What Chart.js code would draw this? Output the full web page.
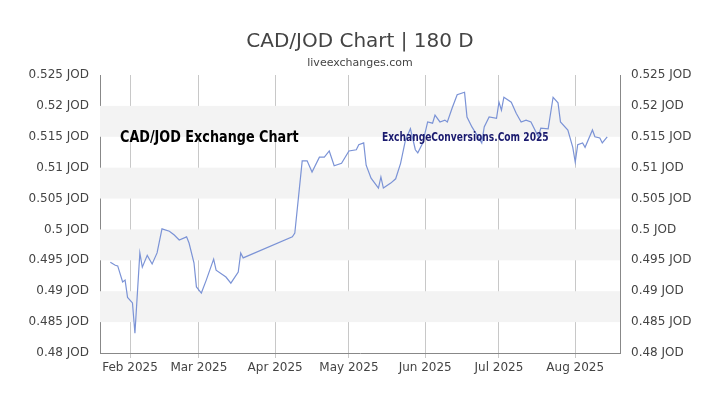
<!DOCTYPE html>
<html>
<head>
<script src="https://cdn.jsdelivr.net/npm/chart.js@4"></script>
<style>body{margin:0;background:#fff}#c{width:720px;height:405px}</style>
</head>
<body>
<div id="c"><canvas id="chart" width="720" height="405"></canvas></div>
<script>
// day of year (Jan 1 = 0) and CAD/JOD rate
var days = [23,25,26,28,29,30,32,33,35,36,38,40,42,44,47,49,51,54,55,57,58,60,62,65,66,70,72,75,76,77,
  97,98,101,103,105,108,110,112,114,117,120,123,124,126,127,129,132,133,134,137,139,141,143,145,147,148,150,
  152,154,155,157,159,160,162,164,167,168,170,172,174,175,177,180,181,182,183,186,188,190,192,194,197,198,
  201,203,205,206,209,211,212,213,215,216,219,220,222,223,225];
var rates = [0.4947,0.4942,0.4941,0.4915,0.4918,0.4890,0.4881,0.4832,0.4962,0.4939,0.4958,0.4944,0.4962,0.5001,0.4997,0.4991,0.4983,0.4988,0.4978,0.4946,0.4907,0.4897,0.4918,0.4952,0.4934,0.4923,0.4913,0.4931,0.4962,0.4954,
  0.4988,0.4994,0.5111,0.5111,0.5093,0.5117,0.5117,0.5127,0.5103,0.5107,0.5127,0.5129,0.5137,0.5140,0.5104,0.5083,0.5067,0.5085,0.5067,0.5075,0.5082,0.5107,0.5145,0.5163,0.5129,0.5124,0.5140,
  0.5174,0.5172,0.5185,0.5174,0.5177,0.5174,0.5197,0.5218,0.5222,0.5182,0.5166,0.5153,0.5140,0.5166,0.5182,0.5180,0.5206,0.5193,0.5214,0.5206,0.5188,0.5174,0.5177,0.5174,0.5150,0.5164,
  0.5163,0.5214,0.5205,0.5174,0.5161,0.5133,0.5109,0.5137,0.5140,0.5133,0.5161,0.5150,0.5148,0.5140,0.5150];
var monthDays = [31,59,90,120,151,181,212];
var monthLabels = ['Feb 2025','Mar 2025','Apr 2025','May 2025','Jun 2025','Jul 2025','Aug 2025'];
var bands = [[0.515,0.52],[0.505,0.51],[0.495,0.5],[0.485,0.49]];

var points = days.map(function(d, i){ return {x: d, y: rates[i]}; });

// narrow text by squeezing horizontally
function narrowText(ctx, text, x, y, sx) {
  ctx.save();
  ctx.translate(x, y);
  ctx.scale(sx, 1);
  ctx.fillText(text, 0, 0);
  ctx.restore();
}

var decor = {
  id: 'decor',
  beforeDatasetsDraw: function(chart) {
    var ctx = chart.ctx, a = chart.chartArea, y = chart.scales.y;
    ctx.save();
    ctx.fillStyle = '#f3f3f3';
    bands.forEach(function(b){
      var t = y.getPixelForValue(b[1]), btm = y.getPixelForValue(b[0]);
      ctx.fillRect(a.left, t, a.right - a.left, btm - t);
    });
    ctx.restore();
  },
  afterDraw: function(chart) {
    var ctx = chart.ctx;
    ctx.save();
    ctx.textAlign = 'center';
    ctx.fillStyle = '#444';
    ctx.font = '20px "DejaVu Sans"';
    ctx.fillText('CAD/JOD Chart | 180 D', 360, 47);
    ctx.font = '11px "DejaVu Sans"';
    ctx.fillText('liveexchanges.com', 360, 66);
    ctx.textAlign = 'left';
    ctx.fillStyle = '#000';
    ctx.font = 'bold 16px "DejaVu Sans"';
    narrowText(ctx, 'CAD/JOD Exchange Chart', 120, 142, 0.8);
    ctx.fillStyle = '#1a1a6e';
    ctx.font = 'bold 12px "DejaVu Sans"';
    narrowText(ctx, 'ExchangeConversions.Com 2025', 382, 141, 0.76);
    ctx.restore();
  }
};

function yTicks(v) { return +v.toFixed(3) + ' JOD'; }

new Chart(document.getElementById('chart').getContext('2d'), {
  type: 'line',
  data: { datasets: [{ data: points, borderColor: '#7b93d6', borderWidth: 1.2, pointRadius: 0, tension: 0 }] },
  options: {
    responsive: false, animation: false,
    layout: { padding: { top: 75, bottom: 0, left: 0, right: 0 } },
    plugins: { legend: { display: false }, tooltip: { enabled: false } },
    scales: {
      x: {
        type: 'linear', min: 18.8, max: 230.2,
        afterBuildTicks: function(s){ s.ticks = monthDays.map(function(v){ return {value: v}; }); },
        ticks: { autoSkip: false, maxRotation: 0, color: '#444', font: { size: 12, family: 'DejaVu Sans' },
          callback: function(v){ var i = monthDays.indexOf(v); return i >= 0 ? monthLabels[i] : ''; } },
        grid: { color: '#c8c8c8', drawTicks: true, tickLength: 5 },
        border: { color: '#888' },
        afterFit: function(s){ s.height = 52; }
      },
      y: {
        position: 'left', min: 0.48, max: 0.525,
        ticks: { stepSize: 0.005, color: '#444', font: { size: 12, family: 'DejaVu Sans' }, callback: yTicks },
        grid: { display: false },
        border: { color: '#888' },
        afterFit: function(s){ s.width = 100; }
      },
      y2: {
        position: 'right', min: 0.48, max: 0.525,
        ticks: { stepSize: 0.005, color: '#444', font: { size: 12, family: 'DejaVu Sans' }, callback: yTicks },
        grid: { display: false, drawTicks: true },
        border: { color: '#888' },
        afterFit: function(s){ s.width = 100; }
      }
    }
  },
  plugins: [decor]
});
</script>
</body>
</html>
